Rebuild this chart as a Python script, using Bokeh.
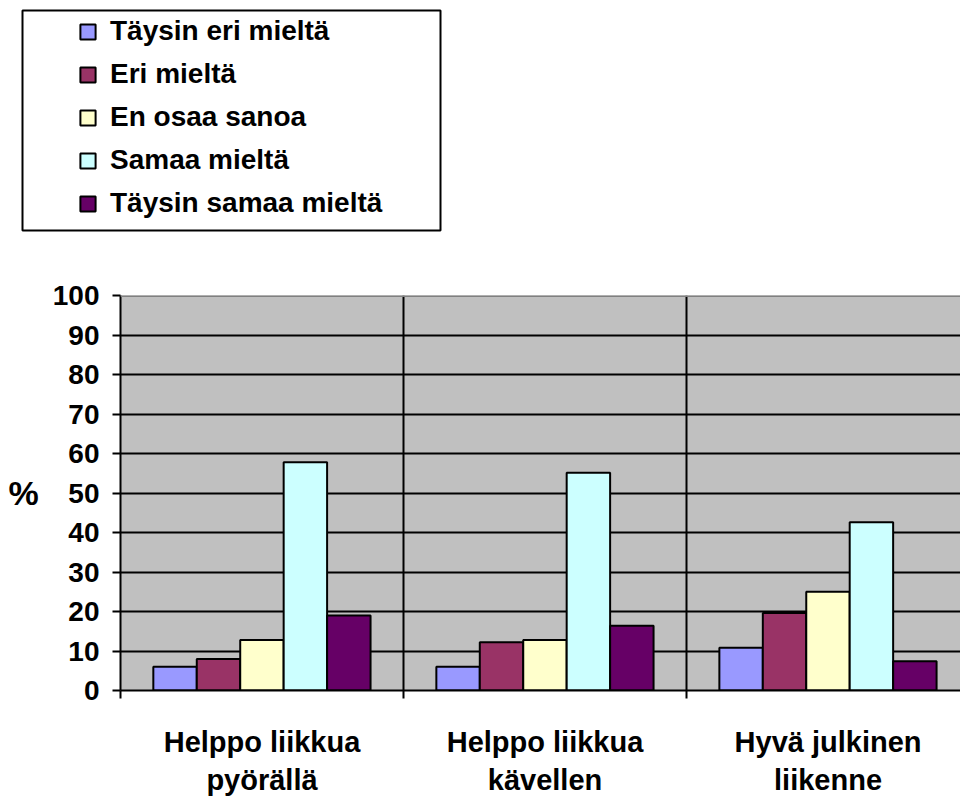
from bokeh.plotting import figure
from bokeh.layouts import column, row
from bokeh.models import Range1d, FixedTicker, Legend, LegendItem, BoxAnnotation, Span
from bokeh.embed import file_html
from bokeh.resources import INLINE
import numpy as np

categories = ["Helppo liikkua\npyörällä", "Helppo liikkua\nkävellen", "Hyvä julkinen\nliikenne"]
series_names = ["Täysin eri mieltä", "Eri mieltä", "En osaa sanoa", "Samaa mieltä", "Täysin samaa mieltä"]
taysin_eri = [6.0, 6.0, 10.8]
eri = [8.0, 12.2, 19.6]
en_osaa = [12.8, 12.8, 25.0]
samaa = [57.8, 55.1, 42.6]
taysin_samaa = [19.0, 16.4, 7.4]
y_ticks = [0, 10, 20, 30, 40, 50, 60, 70, 80, 90, 100]
colors = ["#9999FF", "#993366", "#FFFFCC", "#CCFFFF", "#660066"]

series = [taysin_eri, eri, en_osaa, samaa, taysin_samaa]

FONT = "Liberation Sans"

# ---------- legend figure ----------
lf = figure(width=960, height=240, output_backend="svg", toolbar_location=None,
            x_range=Range1d(0, 1), y_range=Range1d(0, 1),
            x_axis_location=None, y_axis_location=None,
            min_border_left=0, min_border_right=0, min_border_top=0, min_border_bottom=0)
lf.outline_line_color = None
lf.background_fill_color = "white"
lf.xgrid.visible = False
lf.ygrid.visible = False
if "frame_align" in lf.properties():
    lf.frame_align = False

# proxy renderers for the legend swatches (hidden beneath the white legend box)
leg_renderers = []
for col in colors:
    r = lf.vbar(x=[0.3], top=[0.41], bottom=[0.4], width=0.01,
                fill_color=col, line_color="black", line_width=2)
    leg_renderers.append(r)

lf.add_layout(BoxAnnotation(left=22, right=440, top=10, bottom=230,
                            left_units="canvas", right_units="canvas",
                            top_units="canvas", bottom_units="canvas",
                            fill_color="white", fill_alpha=1.0,
                            line_color="black", line_alpha=1.0, line_width=2))

items = [LegendItem(label=n, renderers=[r]) for n, r in zip(series_names, leg_renderers)]
legend = Legend(items=items, location=(78, 21), orientation="vertical",
                glyph_width=19, glyph_height=19, label_standoff=13, spacing=11,
                label_height=31, padding=0, margin=0,
                border_line_color=None, background_fill_alpha=0,
                label_text_font=FONT, label_text_font_style="bold",
                label_text_font_size="28px", label_text_color="black")
lf.add_layout(legend, "center")

# ---------- main chart ----------
p = figure(width=960, height=558, output_backend="svg", toolbar_location=None,
           x_range=Range1d(0, 2.968), y_range=Range1d(0, 100),
           min_border_left=120, min_border_right=0, min_border_top=55, min_border_bottom=97)
p.background_fill_color = "#C0C0C0"
p.border_fill_color = "white"
p.outline_line_color = None
if "frame_align" in p.properties():
    p.frame_align = False

bar_w = 0.1535
start = 0.116
cat_idx = np.arange(len(categories))

for i, (vals, col) in enumerate(zip(series, colors)):
    xs = cat_idx + start + bar_w * (i + 0.5)
    p.vbar(x=xs, top=vals, width=bar_w, bottom=0, fill_color=col,
           line_color="black", line_width=2)

p.ygrid.ticker = FixedTicker(ticks=y_ticks[1:-1])
p.ygrid.grid_line_color = "black"
p.ygrid.grid_line_width = 2
p.xgrid.ticker = FixedTicker(ticks=[1, 2])
p.xgrid.grid_line_color = "black"
p.xgrid.grid_line_width = 2

p.add_layout(Span(location=100, dimension="width", line_color="#808080", line_width=3))

xa = p.xaxis[0]
xa.ticker = FixedTicker(ticks=[0.5, 1.5, 2.5], minor_ticks=[0, 1, 2, 3])
xa.major_label_overrides = {0.5: categories[0], 1.5: categories[1], 2.5: categories[2]}
xa.major_tick_line_color = None
xa.major_tick_out = 0
xa.minor_tick_out = 8
xa.minor_tick_in = 0
xa.minor_tick_line_width = 2
xa.minor_tick_line_color = "black"
xa.axis_line_width = 2
xa.axis_line_color = "black"
xa.major_label_standoff = 27
xa.major_label_text_font = FONT
xa.major_label_text_font_style = "bold"
xa.major_label_text_font_size = "29px"
xa.major_label_text_color = "black"

ya = p.yaxis[0]
ya.ticker = FixedTicker(ticks=y_ticks)
ya.major_tick_out = 8
ya.major_tick_in = 0
ya.major_tick_line_width = 2
ya.major_tick_line_color = "black"
ya.minor_tick_line_color = None
ya.axis_line_width = 2
ya.axis_line_color = "black"
ya.major_label_standoff = 13
ya.major_label_text_font = FONT
ya.major_label_text_font_style = "bold"
ya.major_label_text_font_size = "28px"
ya.major_label_text_color = "black"
ya.axis_label = "%"
ya.axis_label_orientation = "horizontal"
ya.axis_label_standoff = 11
ya.axis_label_text_font = FONT
ya.axis_label_text_font_style = "bold"
ya.axis_label_text_font_size = "34px"
ya.axis_label_text_color = "black"

layout = column(row(lf), p, spacing=0)
open("out.html", "w").write(file_html(layout, INLINE))
